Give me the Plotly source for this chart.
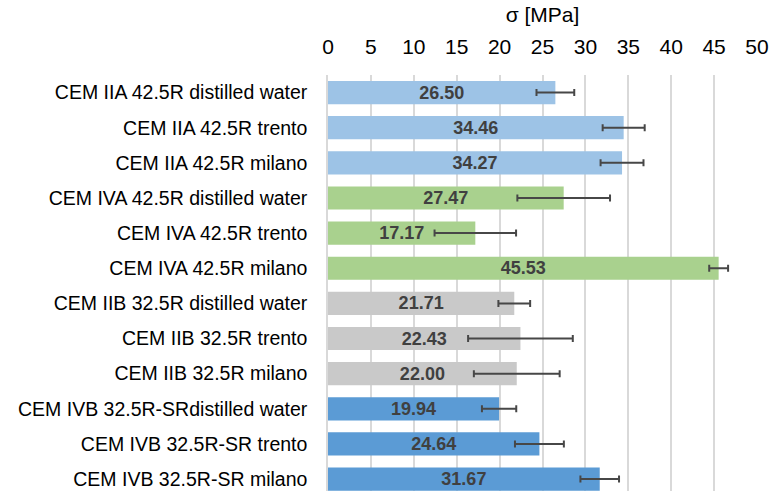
import plotly.graph_objects as go

# Compressive strength per cement type and curing water
categories = [
    "CEM IIA 42.5R distilled water",
    "CEM IIA 42.5R trento",
    "CEM IIA 42.5R milano",
    "CEM IVA 42.5R distilled water",
    "CEM IVA 42.5R trento",
    "CEM IVA 42.5R milano",
    "CEM IIB 32.5R distilled water",
    "CEM IIB 32.5R trento",
    "CEM IIB 32.5R milano",
    "CEM IVB 32.5R-SRdistilled water",
    "CEM IVB 32.5R-SR trento",
    "CEM IVB 32.5R-SR milano",
]
sigma = [26.50, 34.46, 34.27, 27.47, 17.17, 45.53, 21.71, 22.43, 22.00, 19.94, 24.64, 31.67]
sigma_err = [2.2, 2.45, 2.5, 5.4, 4.75, 1.1, 1.85, 6.1, 5.0, 2.0, 2.85, 2.25]
group_colors = ["#9DC3E6"] * 3 + ["#A9D18E"] * 3 + ["#C9C9C9"] * 3 + ["#5B9BD5"] * 3

x_ticks = list(range(0, 55, 5))

fig = go.Figure(
    go.Bar(
        x=sigma,
        y=list(range(len(categories))),
        orientation="h",
        width=0.66,
        marker=dict(color=group_colors, line=dict(width=0)),
        error_x=dict(type="data", array=sigma_err, visible=True,
                     color="#474747", thickness=2, width=3.5),
        text=[f"{v:.2f}" for v in sigma],
        textposition="inside",
        insidetextanchor="middle",
        constraintext="none",
        textangle=0,
        textfont=dict(family="Liberation Sans, Arial", size=18, color="#404040", weight="bold"),
        hoverinfo="skip",
    )
)

fig.update_layout(
    width=770,
    height=491,
    margin=dict(l=328, r=13, t=75, b=0),
    paper_bgcolor="white",
    plot_bgcolor="white",
    showlegend=False,
    font=dict(family="Liberation Sans, Arial", color="#000000"),
    xaxis=dict(
        side="top",
        range=[0, 50],
        tickvals=x_ticks,
        ticktext=[str(t) for t in x_ticks],
        tickfont=dict(size=21, color="#000000"),
        showgrid=True,
        gridcolor="#D9D9D9",
        gridwidth=1.5,
        zeroline=False,
        showline=False,
        ticks="",
        ticklabelstandoff=16,
        title=dict(text="σ [MPa]", font=dict(size=21, color="#000000"), standoff=6),
    ),
    yaxis=dict(
        range=[11.34, -0.5],
        tickvals=list(range(len(categories))),
        ticktext=categories,
        tickfont=dict(size=19.5, color="#000000"),
        showgrid=False,
        zeroline=False,
        showline=True,
        linecolor="#D9D9D9",
        linewidth=1.5,
        ticks="",
        ticklabelstandoff=15,
    ),
)

fig.write_html("out.html")
